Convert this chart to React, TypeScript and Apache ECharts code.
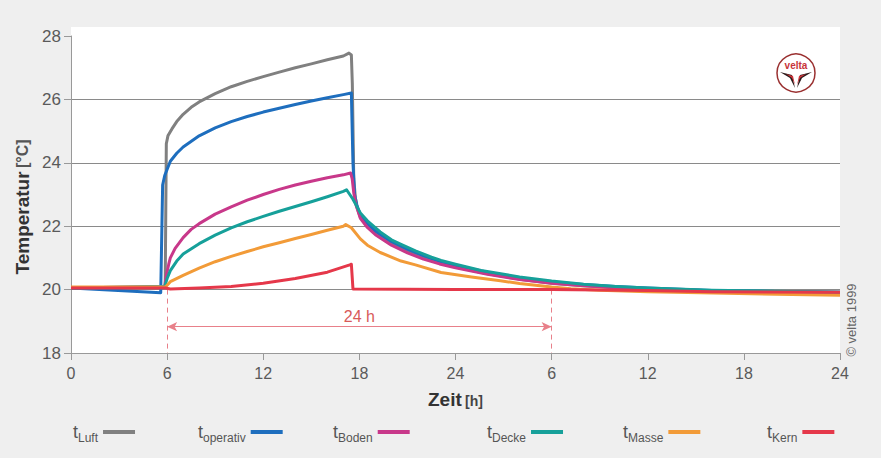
import React, { useEffect, useRef } from "react";
import * as echarts from "echarts";

// ---- data (hours 0..48, °C) ----
const xTickLabels = ["0", "6", "12", "18", "24", "6", "12", "18", "24"];
const yTicks = [18, 20, 22, 24, 26, 28];

const seriesNames = ["tLuft", "toperativ", "tBoden", "tDecke", "tMasse", "tKern"];
const seriesSubs = ["Luft", "operativ", "Boden", "Decke", "Masse", "Kern"];
const seriesColors = ["#808080", "#1e6ebe", "#c8388a", "#16a09a", "#f29b38", "#e5384a"];
const legendLefts = [68, 193, 328, 482, 618, 762];

const luftT = [0, 5.6, 5.88, 5.95, 6.05, 6.3, 6.6, 7, 7.5, 8, 9, 10, 11, 12, 13, 14, 15, 16, 17, 17.35, 17.5, 17.56, 17.65, 17.75, 17.85, 18.06, 18.5, 19, 20, 21, 22, 23, 24, 26, 28, 30, 32, 34, 36, 40, 44, 48];
const luftV = [20.05, 20.05, 20.1, 24.6, 24.85, 25.07, 25.3, 25.53, 25.75, 25.92, 26.18, 26.4, 26.57, 26.72, 26.86, 27.0, 27.12, 27.25, 27.37, 27.46, 27.4, 26.5, 23.5, 22.9, 22.6, 22.28, 22.02, 21.78, 21.45, 21.2, 21.0, 20.84, 20.71, 20.5, 20.33, 20.2, 20.12, 20.06, 20.02, 19.96, 19.94, 19.92];

const operativT = [0, 5.6, 5.72, 5.85, 6.2, 6.6, 7, 8, 9, 10, 11, 12, 13, 14, 15, 16, 17, 17.5, 17.6, 17.7, 17.85, 18.06, 18.5, 19, 19.5, 20, 21, 22, 23, 24, 26, 28, 30, 32, 34, 36, 40, 44, 48];
const operativV = [20.05, 19.9, 23.3, 23.6, 24.05, 24.3, 24.5, 24.85, 25.1, 25.3, 25.46, 25.6, 25.72, 25.84, 25.95, 26.05, 26.15, 26.2, 24.0, 23.0, 22.65, 22.35, 22.08, 21.85, 21.68, 21.52, 21.28, 21.07, 20.9, 20.76, 20.55, 20.37, 20.24, 20.16, 20.1, 20.05, 19.97, 19.94, 19.92];

const bodenT = [0, 5.85, 5.95, 6.1, 6.2, 6.5, 7, 7.5, 8, 9, 10, 11, 12, 13, 14, 15, 16, 17, 17.45, 17.55, 17.65, 17.8, 18.06, 18.5, 19, 20, 21, 22, 23, 24, 26, 28, 30, 32, 34, 36, 40, 44, 48];
const bodenV = [20.05, 20.1, 20.45, 20.8, 21.0, 21.3, 21.64, 21.9, 22.08, 22.38, 22.61, 22.82, 23.0, 23.16, 23.3, 23.42, 23.53, 23.62, 23.68, 23.5, 23.05, 22.65, 22.25, 21.96, 21.73, 21.4, 21.16, 20.96, 20.81, 20.69, 20.48, 20.32, 20.2, 20.12, 20.06, 20.02, 19.96, 19.93, 19.9];

const deckeT = [0, 5.85, 6.0, 6.2, 6.6, 7, 8, 9, 10, 11, 12, 13, 14, 15, 16, 17, 17.2, 17.6, 18.06, 18.5, 19.3, 20, 20.6, 21.5, 22.5, 23.1, 24, 25.6, 28, 30, 32, 34, 36, 40, 44, 48];
const deckeV = [20.05, 20.1, 20.35, 20.6, 20.9, 21.12, 21.45, 21.72, 21.95, 22.14, 22.31, 22.47, 22.62, 22.77, 22.93, 23.1, 23.15, 22.85, 22.42, 22.17, 21.82, 21.57, 21.43, 21.22, 21.02, 20.92, 20.8, 20.6, 20.4, 20.27, 20.17, 20.1, 20.05, 19.98, 19.95, 19.92];

const masseT = [0, 5.9, 6.2, 7, 8, 9, 10, 11, 12, 13, 14, 15, 16, 17, 17.15, 17.5, 18.06, 18.5, 19.3, 20.6, 21.5, 23.1, 25, 26.8, 28, 30, 31.2, 33, 36, 39.3, 44, 48];
const masseV = [20.08, 20.08, 20.25, 20.45, 20.68, 20.88, 21.05, 21.2, 21.35, 21.48, 21.61, 21.74, 21.87, 22.0, 22.05, 21.95, 21.6, 21.4, 21.17, 20.9, 20.78, 20.54, 20.4, 20.28, 20.19, 20.08, 20.03, 19.98, 19.93, 19.9, 19.85, 19.82];

const kernT = [0, 5.9, 6.2, 8, 10, 12, 14, 16, 17.4, 17.5, 17.6, 24, 30, 36, 40, 48];
const kernV = [20.05, 20.05, 20.02, 20.05, 20.1, 20.2, 20.35, 20.55, 20.78, 20.8, 20.02, 20.0, 20.0, 19.97, 19.93, 19.92];

const seriesT = [luftT, operativT, bodenT, deckeT, masseT, kernT];
const seriesV = [luftV, operativV, bodenV, deckeV, masseV, kernV];

// annotation: 24 h span
const spanStart = 6;
const spanEnd = 30;
const spanArrowY = 18.83;
const spanLabel = "24 h";

const FONT = "'Liberation Sans', Arial, sans-serif";

export default function App() {
  const ref = useRef<HTMLDivElement>(null);

  useEffect(() => {
    document.body.style.margin = "0";
    if (!ref.current) return;
    const chart = echarts.init(ref.current, null, { renderer: "svg" });

    const series: any[] = seriesNames.map((name, i) => ({
      name,
      type: "line",
      data: seriesT[i].map((t, k) => [t, seriesV[i][k]]),
      showSymbol: false,
      smooth: false,
      lineStyle: { width: 3, color: seriesColors[i], join: "round" },
      itemStyle: { color: seriesColors[i] },
      z: 3 + i,
    }));

    series.push({
      name: "annot",
      type: "line",
      data: [],
      silent: true,
      markLine: {
        silent: true,
        animation: false,
        symbol: "none",
        label: { show: false },
        lineStyle: { color: "#e8808a", type: [5, 4], width: 1 },
        data: [
          [{ coord: [spanStart, 20] }, { coord: [spanStart, 18] }],
          [{ coord: [spanEnd, 20] }, { coord: [spanEnd, 18] }],
          [
            {
              coord: [spanStart, spanArrowY],
              symbol: "arrow",
              lineStyle: { type: "solid", color: "#e8808a", width: 1 },
              label: {
                show: true,
                formatter: spanLabel,
                position: "middle",
                color: "#d85a5a",
                fontSize: 16,
                fontFamily: FONT,
                distance: 2,
              },
            },
            { coord: [spanEnd, spanArrowY], symbol: "arrow" },
          ],
        ],
        symbolSize: [7, 10],
      },
    });

    const legends = seriesNames.map((name, i) => ({
      data: [name],
      left: legendLefts[i],
      top: 418,
      align: "right",
      icon: "rect",
      itemWidth: 32,
      itemHeight: 4,
      itemGap: 0,
      selectedMode: false,
      formatter: () => `{t|t}{s|${seriesSubs[i]}}`,
      textStyle: {
        rich: {
          t: { fontSize: 18, color: "#555", fontFamily: FONT },
          s: { fontSize: 12, color: "#555", fontFamily: FONT, padding: [12, 0, 0, 0] },
        },
      },
    }));

    const option: any = {
      animation: false,
      backgroundColor: "transparent",
      grid: { left: 71, right: 41, top: 36, bottom: 105 },
      legend: legends,
      xAxis: {
        type: "value",
        min: 0,
        max: 48,
        interval: 6,
        name: "{b|Zeit} {n|[h]}",
        nameLocation: "middle",
        nameGap: 37,
        nameTextStyle: {
          rich: {
            b: { fontSize: 19, fontWeight: "bold", color: "#333", fontFamily: FONT },
            n: { fontSize: 14, fontWeight: "bold", color: "#444", fontFamily: FONT, padding: [3, 0, 0, 0] },
          },
        },
        axisLine: { show: true, lineStyle: { color: "#999", width: 1 } },
        axisTick: { show: true, length: 7, lineStyle: { color: "#999" } },
        axisLabel: {
          fontSize: 16,
          color: "#5a5a5a",
          fontFamily: FONT,
          margin: 12,
          formatter: (v: number) => xTickLabels[Math.round(v / 6)] ?? "",
        },
        splitLine: { show: false },
      },
      yAxis: {
        type: "value",
        min: yTicks[0],
        max: yTicks[yTicks.length - 1],
        interval: 2,
        axisLine: { show: true, lineStyle: { color: "#999", width: 1 } },
        axisTick: { show: true, length: 7, lineStyle: { color: "#999" } },
        axisLabel: { fontSize: 17, color: "#5a5a5a", fontFamily: FONT, margin: 10 },
        splitLine: {
          show: true,
          showMinLine: false,
          showMaxLine: false,
          lineStyle: { color: "#8a8a8a", width: 1 },
        },
      },
      graphic: [
        {
          type: "rect",
          z: -10,
          silent: true,
          shape: { x: 71, y: 27, width: 769, height: 326 },
          style: { fill: "#ffffff" },
        },
        {
          type: "text",
          x: 22,
          y: 207,
          rotation: Math.PI / 2,
          style: {
            text: "{b|Temperatur} {n|[°C]}",
            align: "center",
            verticalAlign: "middle",
            rich: {
              b: { fontSize: 19, fontWeight: "bold", fill: "#333", fontFamily: FONT },
              n: { fontSize: 16, fontWeight: "bold", fill: "#555", fontFamily: FONT },
            },
          },
        },
        {
          type: "text",
          x: 851,
          y: 320,
          rotation: Math.PI / 2,
          style: {
            text: "© velta 1999",
            align: "center",
            verticalAlign: "middle",
            fontSize: 13,
            fill: "#666",
            fontFamily: FONT,
          },
        },
        {
          type: "group",
          x: 796,
          y: 73,
          children: [
            { type: "circle", shape: { cx: 0, cy: 0, r: 19 }, style: { fill: "#fff", stroke: "#9a3030", lineWidth: 1.5 } },
            {
              type: "text",
              x: 0,
              y: -8,
              style: { text: "velta", align: "center", verticalAlign: "middle", fontSize: 10, fontWeight: "bold", fill: "#c8343a", fontFamily: FONT },
            },
            { type: "polygon", shape: { points: [[-16, -1], [-4, 2], [-1, 15], [-6, 5]] }, style: { fill: "#2a1a1a" } },
            { type: "polygon", shape: { points: [[16, -1], [4, 2], [1, 15], [6, 5]] }, style: { fill: "#2a1a1a" } },
            { type: "polygon", shape: { points: [[-10, 1], [-3, 3], [-1, 12], [-4, 5]] }, style: { fill: "#d0343a" } },
            { type: "polygon", shape: { points: [[10, 1], [3, 3], [1, 12], [4, 5]] }, style: { fill: "#d0343a" } },
          ],
        },
      ],
      series,
    };

    chart.setOption(option);
    return () => chart.dispose();
  }, []);

  return (
    <div style={{ width: 881, height: 458, background: "#efefef" }}>
      <div ref={ref} style={{ width: 881, height: 458 }} />
    </div>
  );
}
